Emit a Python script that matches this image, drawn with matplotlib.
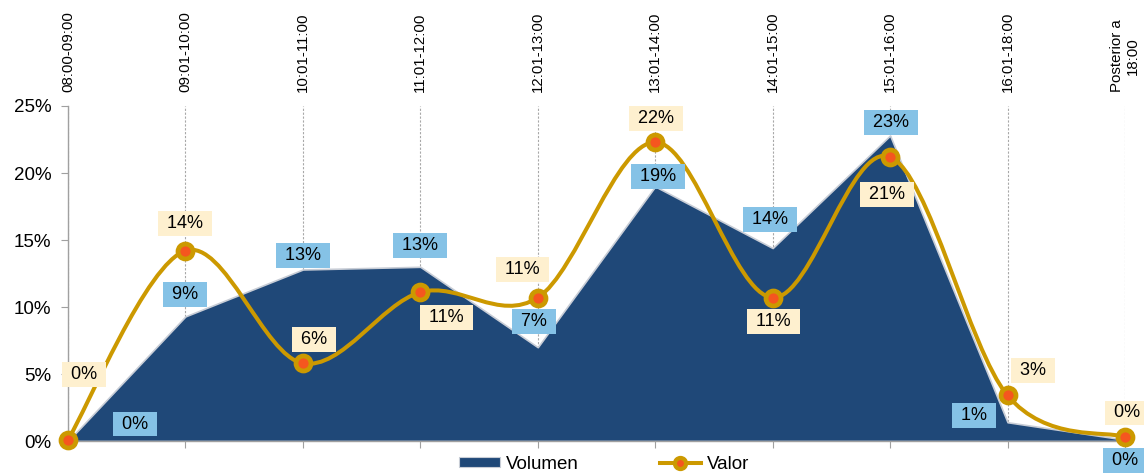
import matplotlib
matplotlib.use("Agg")
import matplotlib.pyplot as plt
from matplotlib.path import Path
from matplotlib.patches import PathPatch, Patch
from matplotlib.lines import Line2D
from matplotlib.ticker import FuncFormatter
import numpy as np

plt.rcParams['font.family'] = ['Liberation Sans', 'DejaVu Sans']

categories = ["08:00-09:00", "09:01-10:00", "10:01-11:00", "11:01-12:00",
              "12:01-13:00", "13:01-14:00", "14:01-15:00", "15:01-16:00",
              "16:01-18:00", "Posterior a\n18:00"]
volumen = [0.0, 9.3, 12.8, 13.0, 7.0, 19.0, 14.4, 22.8, 1.4, 0.1]
valor = [0.1, 14.2, 5.8, 11.1, 10.7, 22.3, 10.7, 21.2, 3.4, 0.3]
volumen_labels = ["0%", "9%", "13%", "13%", "7%", "19%", "14%", "23%", "1%", "0%"]
valor_labels = ["0%", "14%", "6%", "11%", "11%", "22%", "11%", "21%", "3%", "0%"]

# label offsets in pixels (style/placement)
vol_off = [(67, 17), (0, 22), (0, 14), (0, 21), (-4, 26), (3, 10), (-3, 29), (1, 13), (-34, 7), (0, -21)]
val_off = [(16, 65), (0, 27), (11, 24), (26, -25), (-15, 28), (1, 24), (1, -24), (-3, -38), (25, 25), (2, 24)]

NAVY = '#1F4878'
GOLD = '#CC9900'
RED = '#F5561F'
BLUE_BOX = '#85C2E6'
CREAM_BOX = '#FEF0CF'

fig = plt.figure(figsize=(11.44, 4.73), dpi=100)
ax = fig.add_axes([68/1144, 1 - 441/473, (1125 - 68)/1144, (441 - 106)/473])

x = np.arange(len(categories))

# area
ax.fill_between(x, volumen, 0, color=NAVY, edgecolor='#C8CDD6', linewidth=1.2, zorder=2)

# smoothed line (Excel-like Bezier through points)
pts = np.column_stack([x, valor]).astype(float)
n = len(pts)
verts = [tuple(pts[0])]
codes = [Path.MOVETO]
for i in range(n - 1):
    p0 = pts[i - 1] if i > 0 else pts[i]
    p1 = pts[i]
    p2 = pts[i + 1]
    p3 = pts[i + 2] if i + 2 < n else pts[i + 1]
    c1 = p1 + (p2 - p0) / 6.0
    c2 = p2 - (p3 - p1) / 6.0
    verts += [tuple(c1), tuple(c2), tuple(p2)]
    codes += [Path.CURVE4] * 3
ax.add_patch(PathPatch(Path(verts, codes), facecolor='none', edgecolor=GOLD,
                       linewidth=2.9, zorder=3, capstyle='round', joinstyle='round'))
ax.plot(x, valor, linestyle='none', marker='o', markersize=10.8,
        markerfacecolor=RED, markeredgecolor=GOLD, markeredgewidth=3.4,
        zorder=4, clip_on=False)

# labels
for i in range(n):
    ax.annotate(" " + volumen_labels[i] + " ", (x[i], volumen[i]),
                xytext=vol_off[i], textcoords='offset pixels',
                ha='center', va='center', fontsize=13, color='black',
                bbox=dict(boxstyle='square,pad=0.22', fc=BLUE_BOX, ec='none'),
                zorder=6, annotation_clip=False)
    ax.annotate(" " + valor_labels[i] + " ", (x[i], valor[i]),
                xytext=val_off[i], textcoords='offset pixels',
                ha='center', va='center', fontsize=13, color='black',
                bbox=dict(boxstyle='square,pad=0.22', fc=CREAM_BOX, ec='none'),
                zorder=6, annotation_clip=False)

ax.set_xlim(0, n - 1)
ax.set_ylim(0, 25)
ax.set_yticks([0, 5, 10, 15, 20, 25])
ax.yaxis.set_major_formatter(FuncFormatter(lambda v, p: f"{v:.0f}%"))
ax.set_xticks(x)
ax.set_xticklabels(categories, rotation=90, fontsize=10.8, ha='center', va='bottom',
                   multialignment='center', color='black')
ax.tick_params(axis='x', labeltop=True, labelbottom=False, top=False, bottom=True,
               direction='out', length=5, color='#A0A0A0', pad=5)
ax.tick_params(axis='y', direction='out', length=5, color='#A0A0A0', labelsize=13.5,
               pad=7, labelcolor='black')

for s in ['top', 'right']:
    ax.spines[s].set_visible(False)
for s in ['left', 'bottom']:
    ax.spines[s].set_color('#A0A0A0')
    ax.spines[s].set_linewidth(1.0)

ax.set_axisbelow(True)
ax.xaxis.grid(True, linestyle=(0, (2, 1.5)), color='#A8A8A8', linewidth=0.8)
ax.yaxis.grid(False)

handles = [Patch(facecolor=NAVY, edgecolor='#C8CDD6', linewidth=0.8),
           Line2D([0], [0], color=GOLD, linewidth=2.9, marker='o', markersize=8,
                  markerfacecolor=RED, markeredgecolor=GOLD, markeredgewidth=3)]
fig.legend(handles, ["Volumen", "Valor"], loc='center', ncol=2,
           bbox_to_anchor=(604/1144, 1 - 464/473), frameon=False,
           fontsize=13.5, handlelength=2.2, handleheight=0.5, columnspacing=4.3,
           handletextpad=0.3, borderaxespad=0)

fig.savefig("out.png", dpi=100)
